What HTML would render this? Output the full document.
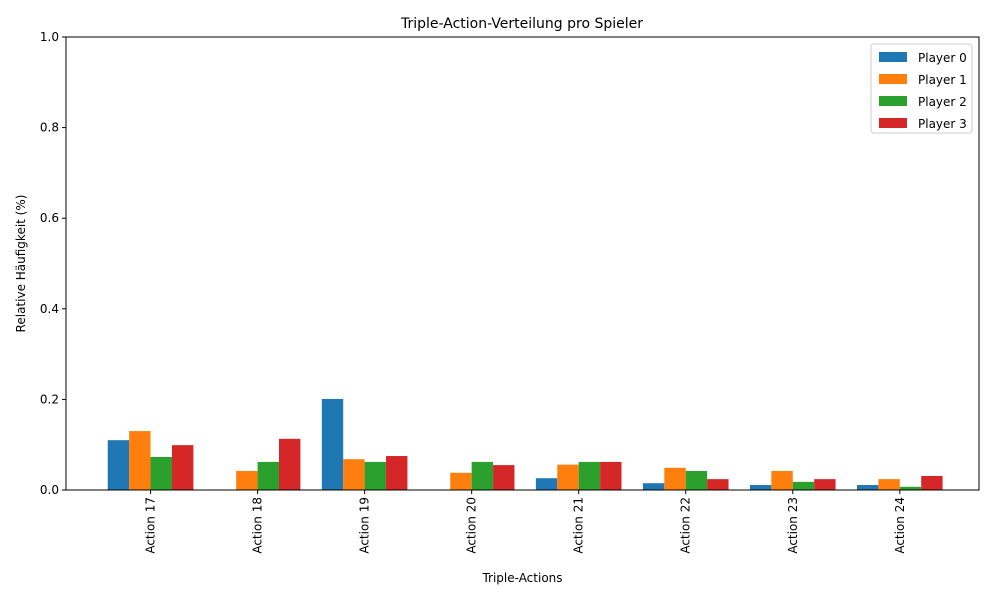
<!DOCTYPE html>
<html><head><meta charset="utf-8"><style>
body{margin:0;background:#fff;font-family:"Liberation Sans","DejaVu Sans",sans-serif;}
svg text{font-family:"DejaVu Sans","Liberation Sans",sans-serif;}
</style></head><body>
<svg id="chart" width="1000" height="600" xmlns="http://www.w3.org/2000/svg">
<rect width="1000" height="600" fill="#fff"/>
<text x="522" y="28" font-size="14" text-anchor="middle">Triple-Action-Verteilung pro Spieler</text>
<g id="bars"></g>
<g id="axes"></g>
</svg>
<script>
const categories=["Action 17","Action 18","Action 19","Action 20","Action 21","Action 22","Action 23","Action 24"];
const players=["Player 0","Player 1","Player 2","Player 3"];
const p0=[0.110,0,0.201,0,0.026,0.015,0.011,0.011];
const p1=[0.130,0.042,0.068,0.038,0.056,0.049,0.042,0.024];
const p2=[0.073,0.062,0.062,0.062,0.062,0.042,0.018,0.007];
const p3=[0.099,0.113,0.075,0.055,0.062,0.024,0.024,0.031];
const yTicks=[0.0,0.2,0.4,0.6,0.8,1.0];
const series=[p0,p1,p2,p3];
const colors=["#1f77b4","#ff7f0e","#2ca02c","#d62728"];
const L=66,R=979,T=37,B=490;
const xmin=-0.79,xmax=categories.length-1+0.74;
const X=v=>L+(v-xmin)/(xmax-xmin)*(R-L);
const Y=v=>B-v*(B-T);
const NS="http://www.w3.org/2000/svg";
const bars=document.getElementById('bars'),axes=document.getElementById('axes');
function mk(tag,attrs,parent){const e=document.createElementNS(NS,tag);for(const k in attrs)e.setAttribute(k,attrs[k]);parent.appendChild(e);return e;}
series.forEach((s,k)=>{s.forEach((v,i)=>{
 const x0=X(i+(k-2)*0.2),x1=X(i+(k-1)*0.2);
 const r=mk('rect',{x:x0,y:Y(v),width:x1-x0,height:Y(0)-Y(v),fill:colors[k]},bars);
 
 
});});
const fr=mk('rect',{x:L,y:T,width:R-L,height:B-T,fill:'none',stroke:'#000','stroke-width':1},axes);


yTicks.forEach(t=>{
 mk('line',{x1:L-4,x2:L,y1:Y(t),y2:Y(t),stroke:'#000'},axes);
 const tx=mk('text',{x:L-7,y:Y(t)+4,'font-size':12,'text-anchor':'end'},axes);
 tx.textContent=t.toFixed(1);
 
 
});
categories.forEach((c,i)=>{
 const x=X(i);
 mk('line',{x1:x,x2:x,y1:B,y2:B+4,stroke:'#000'},axes);
 const tx=mk('text',{x:0,y:0,'font-size':12,'text-anchor':'end',transform:`translate(${x+4},${B+7}) rotate(-90)`},axes);
 tx.textContent=c;
 
 
});
const xt=mk('text',{x:(L+R)/2,y:582,'font-size':12,'text-anchor':'middle'},axes);
xt.textContent='Triple-Actions';


const yt=mk('text',{x:0,y:0,'font-size':12,'text-anchor':'middle',transform:`translate(25,${(T+B)/2}) rotate(-90)`},axes);
yt.textContent='Relative Häufigkeit (%)';


const lg=mk('g',{},axes);


mk('rect',{x:871,y:44,width:101,height:89,rx:3,fill:'#fff',stroke:'#ccc'},lg);
players.forEach((p,k)=>{
 const y=52+k*22;
 mk('rect',{x:879,y:y,width:28,height:10,fill:colors[k]},lg);
 const t=mk('text',{x:918,y:y+10,'font-size':12},lg);
 t.textContent=p;
 
 
});
</script>
</body></html>
